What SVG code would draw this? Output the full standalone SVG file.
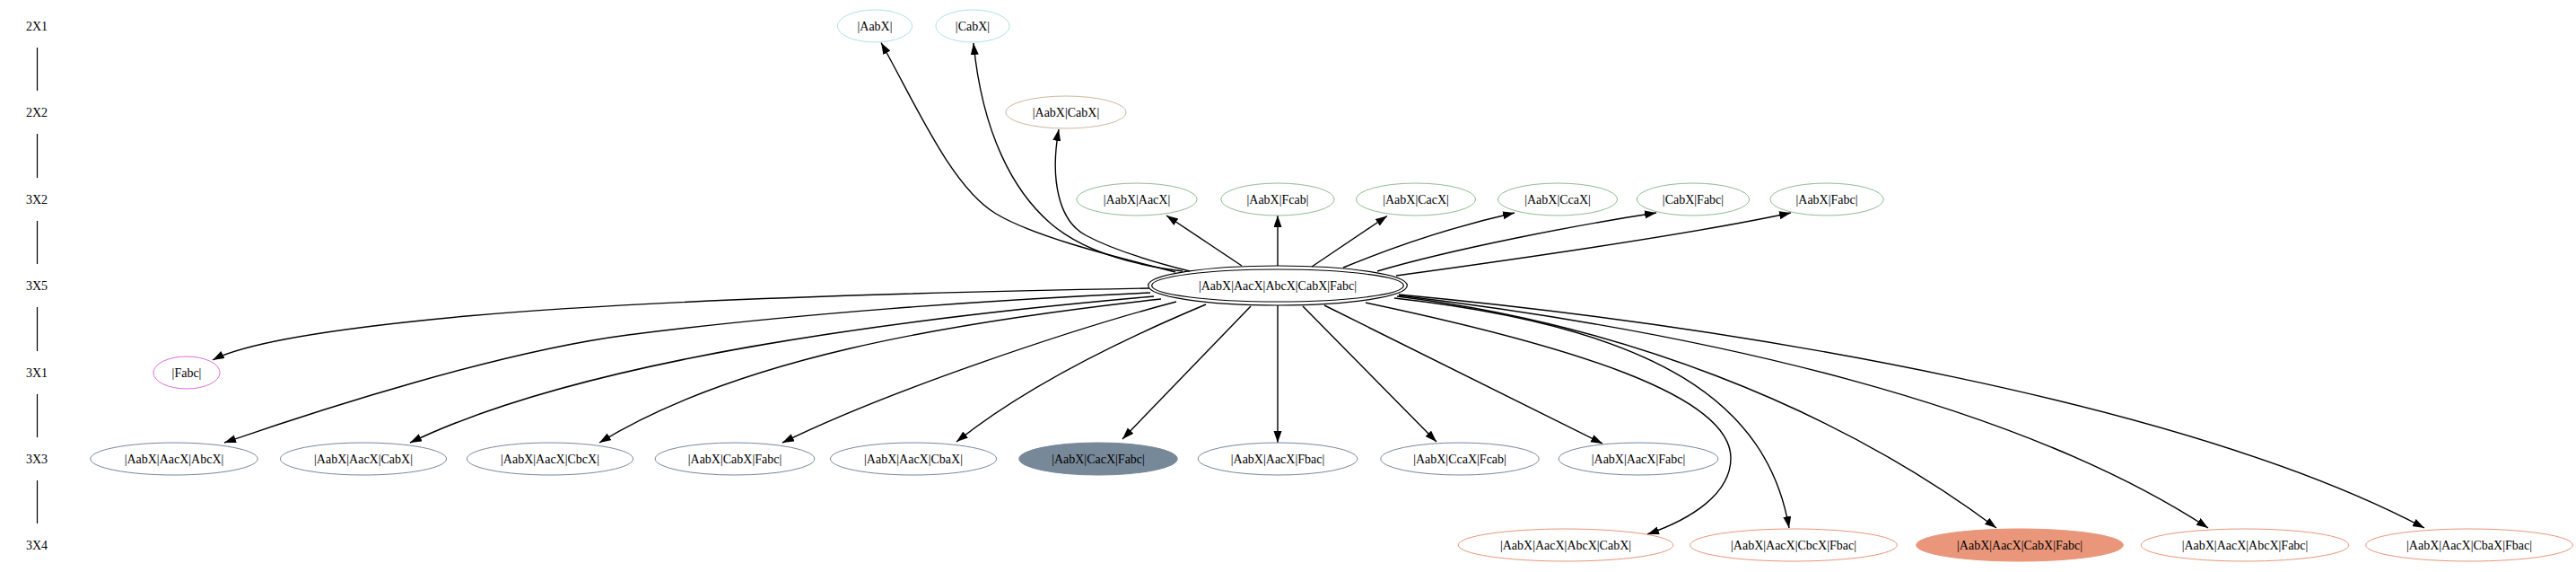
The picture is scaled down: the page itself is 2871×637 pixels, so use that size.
<svg xmlns="http://www.w3.org/2000/svg" width="2871" height="637" viewBox="0 0 2871 637">
<style>
text{font-family:"Liberation Serif",Times,serif;font-size:14px;text-anchor:middle;fill:#000}
.n{fill:none;stroke-width:1}
.r1{stroke:#b0e0e6}
.r2{stroke:#cdb79e}
.r3{stroke:#8fbc8f}
.r4{stroke:#da70d6}
.r5{stroke:#778899}
.r6{stroke:#e9967a}
.f5{fill:#778899}
.f6{fill:#e9967a}
.c{fill:none;stroke:#000;stroke-width:1.2}
.e{fill:none;stroke:#000;stroke-width:1.4;marker-end:url(#arr)}
.rk{stroke:#000;stroke-width:1.2}
</style>
<defs>
<marker id="arr" markerUnits="userSpaceOnUse" markerWidth="14" markerHeight="10" refX="13" refY="4.5" orient="auto">
<path d="M0,0 L13,4.5 L0,9 z" fill="#000"/>
</marker>
</defs>
<rect width="2871" height="637" fill="#fff"/>
<g id="ranks">
<text x="41" y="33.5">2X1</text>
<text x="41" y="129.5">2X2</text>
<text x="41" y="226.5">3X2</text>
<text x="41" y="322.5">3X5</text>
<text x="41" y="419.5">3X1</text>
<text x="41" y="515.5">3X3</text>
<text x="41" y="611.5">3X4</text>
<path class="rk" d="M41.5,53V101 M41.5,149V198 M41.5,246V294 M41.5,342V391 M41.5,439V487 M41.5,535V583"/>
</g>
<g id="connectors">
<path class="e" d="M1310,303 C1230,283 1150,262 1110,238 C1060,208 1020,115 982,47.5"/>
<path class="e" d="M1318,302 C1270,296 1210,283 1170,248 C1130,213 1095,150 1085,48"/>
<path class="e" d="M1326,302 C1290,293 1240,278 1210,262 C1180,246 1170,200 1180,144"/>
<path class="e" d="M1384,296 L1300,240"/>
<path class="e" d="M1424,296 L1424,240"/>
<path class="e" d="M1462,297 L1546,240.5"/>
<path class="e" d="M1497,298 C1560,272 1630,250 1688,237"/>
<path class="e" d="M1535,302 C1620,277 1760,250 1846,237"/>
<path class="e" d="M1556,307 C1680,290 1880,262 1996,237"/>
<path class="e" d="M1281,321 C1000,326 700,336 520,352 C400,363 280,378 237,401"/>
<path class="e" d="M1282,326 C1100,334 880,350 700,373 C560,391 360,455 250,493"/>
<path class="e" d="M1286,330 C1000,355 650,400 457,493"/>
<path class="e" d="M1294,333 C1050,360 820,400 668,493"/>
<path class="e" d="M1311,336 C1200,365 990,435 872,493"/>
<path class="e" d="M1344,339 C1270,370 1150,425 1066,492"/>
<path class="e" d="M1394,341 L1251,489"/>
<path class="e" d="M1424,340 L1424,493"/>
<path class="e" d="M1452,341 L1601,492"/>
<path class="e" d="M1476,340 L1786,494"/>
<path class="e" d="M1522,337 C1750,385 1929,440 1929,510 C1929,550 1885,578 1836,595"/>
<path class="e" d="M1554,332 C1850,365 1970,450 1994,588"/>
<path class="e" d="M1557,330 C1800,360 2040,450 2225,588"/>
<path class="e" d="M1559,329 C1900,370 2250,450 2461,588"/>
<path class="e" d="M1559,328 C1950,365 2440,450 2702,588"/>
</g>
<g id="n_AabX"><ellipse class="n r1" cx="975" cy="29" rx="41.6" ry="18"/><text x="975" y="33.5">|AabX|</text></g>
<g id="n_CabX"><ellipse class="n r1" cx="1084" cy="29" rx="41.1" ry="18"/><text x="1084" y="33.5">|CabX|</text></g>
<g id="n_AabX_CabX"><ellipse class="n r2" cx="1188" cy="125" rx="67.2" ry="18"/><text x="1188" y="129.5">|AabX|CabX|</text></g>
<g id="n_AabX_AacX"><ellipse class="n r3" cx="1267" cy="222" rx="67.2" ry="18"/><text x="1267" y="226.5">|AabX|AacX|</text></g>
<g id="n_AabX_Fcab"><ellipse class="n r3" cx="1424" cy="222" rx="63.2" ry="18"/><text x="1424" y="226.5">|AabX|Fcab|</text></g>
<g id="n_AabX_CacX"><ellipse class="n r3" cx="1578" cy="222" rx="66.6" ry="18"/><text x="1578" y="226.5">|AabX|CacX|</text></g>
<g id="n_AabX_CcaX"><ellipse class="n r3" cx="1736" cy="222" rx="66.6" ry="18"/><text x="1736" y="226.5">|AabX|CcaX|</text></g>
<g id="n_CabX_Fabc"><ellipse class="n r3" cx="1887" cy="222" rx="62.7" ry="18"/><text x="1887" y="226.5">|CabX|Fabc|</text></g>
<g id="n_AabX_Fabc"><ellipse class="n r3" cx="2036" cy="222" rx="63.2" ry="18"/><text x="2036" y="226.5">|AabX|Fabc|</text></g>
<g id="n_central"><ellipse class="c" cx="1424" cy="318" rx="144.3" ry="22"/><ellipse class="c" cx="1424" cy="318" rx="140.3" ry="18"/><text x="1424" y="322.5">|AabX|AacX|AbcX|CabX|Fabc|</text></g>
<g id="n_Fabc"><ellipse class="n r4" cx="208" cy="415" rx="37.1" ry="18"/><text x="208" y="419.5">|Fabc|</text></g>
<g id="n_3X3_1"><ellipse class="n r5" cx="194" cy="511" rx="93.2" ry="18"/><text x="194" y="515.5">|AabX|AacX|AbcX|</text></g>
<g id="n_3X3_2"><ellipse class="n r5" cx="405" cy="511" rx="92.6" ry="18"/><text x="405" y="515.5">|AabX|AacX|CabX|</text></g>
<g id="n_3X3_3"><ellipse class="n r5" cx="613" cy="511" rx="92.6" ry="18"/><text x="613" y="515.5">|AabX|AacX|CbcX|</text></g>
<g id="n_3X3_4"><ellipse class="n r5" cx="819" cy="511" rx="88.8" ry="18"/><text x="819" y="515.5">|AabX|CabX|Fabc|</text></g>
<g id="n_3X3_5"><ellipse class="n r5" cx="1018" cy="511" rx="92.6" ry="18"/><text x="1018" y="515.5">|AabX|AacX|CbaX|</text></g>
<g id="n_3X3_6"><ellipse class="r5 f5" cx="1224" cy="511" rx="88.2" ry="18"/><text x="1224" y="515.5">|AabX|CacX|Fabc|</text></g>
<g id="n_3X3_7"><ellipse class="n r5" cx="1424" cy="511" rx="88.8" ry="18"/><text x="1424" y="515.5">|AabX|AacX|Fbac|</text></g>
<g id="n_3X3_8"><ellipse class="n r5" cx="1627" cy="511" rx="88.2" ry="18"/><text x="1627" y="515.5">|AabX|CcaX|Fcab|</text></g>
<g id="n_3X3_9"><ellipse class="n r5" cx="1826" cy="511" rx="88.8" ry="18"/><text x="1826" y="515.5">|AabX|AacX|Fabc|</text></g>
<g id="n_3X4_1"><ellipse class="n r6" cx="1745" cy="607" rx="119.8" ry="18"/><text x="1745" y="611.5">|AabX|AacX|AbcX|CabX|</text></g>
<g id="n_3X4_2"><ellipse class="n r6" cx="1999" cy="607" rx="115.3" ry="18"/><text x="1999" y="611.5">|AabX|AacX|CbcX|Fbac|</text></g>
<g id="n_3X4_3"><ellipse class="r6 f6" cx="2251" cy="607" rx="115.3" ry="18"/><text x="2251" y="611.5">|AabX|AacX|CabX|Fabc|</text></g>
<g id="n_3X4_4"><ellipse class="n r6" cx="2502" cy="607" rx="115.8" ry="18"/><text x="2502" y="611.5">|AabX|AacX|AbcX|Fabc|</text></g>
<g id="n_3X4_5"><ellipse class="n r6" cx="2752" cy="607" rx="115.3" ry="18"/><text x="2752" y="611.5">|AabX|AacX|CbaX|Fbac|</text></g>
</svg>
